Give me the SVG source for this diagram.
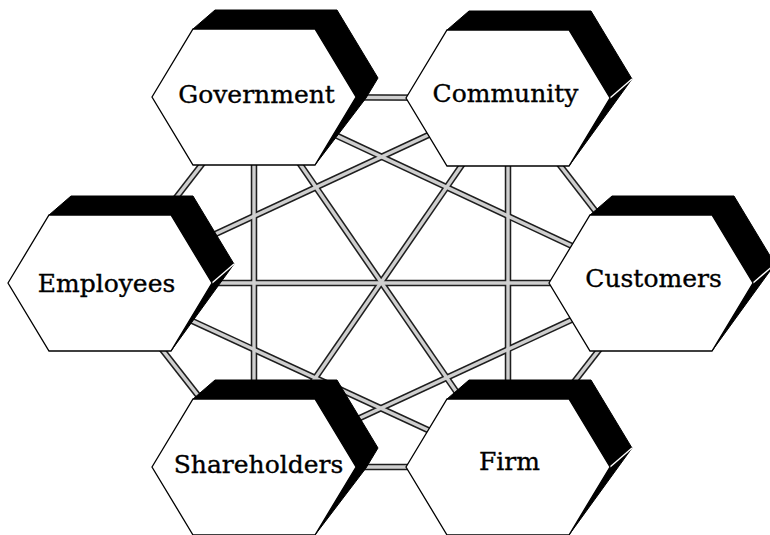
<svg xmlns="http://www.w3.org/2000/svg" xmlns:xlink="http://www.w3.org/1999/xlink" width="770" height="535" viewBox="0 0 770 535">
<style>
.outer{stroke:#1e1e1e;stroke-width:6.5;fill:none}
.inner{stroke:#cfcfcf;stroke-width:3.4;fill:none}
.front{fill:#fff;stroke:#000;stroke-width:1.3;stroke-linejoin:miter}
.shadow{fill:#000;stroke:#000;stroke-width:1}
.bevel{stroke:#fff;stroke-width:1.4}
.label{font-family:"DejaVu Serif","Liberation Serif",serif;font-size:25px;fill:#000;stroke:#000;stroke-width:0.35;text-anchor:middle}
</style>
<defs>
<g id="edges">
<line x1="254" y1="97" x2="508" y2="98"/>
<line x1="254" y1="97" x2="110" y2="283"/>
<line x1="254" y1="97" x2="651" y2="283"/>
<line x1="254" y1="97" x2="254" y2="467"/>
<line x1="254" y1="97" x2="508" y2="467"/>
<line x1="508" y1="98" x2="110" y2="283"/>
<line x1="508" y1="98" x2="651" y2="283"/>
<line x1="508" y1="98" x2="254" y2="467"/>
<line x1="508" y1="98" x2="508" y2="467"/>
<line x1="110" y1="283" x2="651" y2="283"/>
<line x1="110" y1="283" x2="254" y2="467"/>
<line x1="110" y1="283" x2="508" y2="467"/>
<line x1="651" y1="283" x2="254" y2="467"/>
<line x1="651" y1="283" x2="508" y2="467"/>
<line x1="254" y1="467" x2="508" y2="467"/>
</g>
<polygon id="hexFront" class="front" points="-102,0 -61,-68 61,-68 102,0 61,68 -61,68"/>
<polygon id="shadowA" class="shadow" points="-61,-68 -39,-87 83,-87 124,-19 112,1 61,68 0,0"/>
<polygon id="shadowB" class="shadow" points="-61,-68 -39,-87 83,-87 124,-19 61,68 0,0"/>
<line id="bevelLine" class="bevel" x1="102" y1="0" x2="124" y2="-19"/>
</defs>
<rect width="770" height="535" fill="#fff"/>
<g id="connectors">
<use xlink:href="#edges" class="outer"/>
<use xlink:href="#edges" class="inner"/>
</g>
<g id="government" transform="translate(254,97)">
<use xlink:href="#shadowA"/>
<use xlink:href="#hexFront"/>
<text class="label" x="2.5" y="6">Government</text>
</g>
<g id="community" transform="translate(508,98)">
<use xlink:href="#shadowB"/>
<use xlink:href="#bevelLine"/>
<use xlink:href="#hexFront"/>
<text class="label" x="-2.5" y="4">Community</text>
</g>
<g id="employees" transform="translate(110,283)">
<use xlink:href="#shadowB"/>
<use xlink:href="#bevelLine"/>
<use xlink:href="#hexFront"/>
<text class="label" x="-3.5" y="9">Employees</text>
</g>
<g id="customers" transform="translate(651,283)">
<use xlink:href="#shadowB"/>
<use xlink:href="#bevelLine"/>
<use xlink:href="#hexFront"/>
<text class="label" x="2.5" y="4">Customers</text>
</g>
<g id="shareholders" transform="translate(254,467)">
<use xlink:href="#shadowA"/>
<use xlink:href="#hexFront"/>
<text class="label" x="4.5" y="6">Shareholders</text>
</g>
<g id="firm" transform="translate(508,467)">
<use xlink:href="#shadowB"/>
<use xlink:href="#bevelLine"/>
<use xlink:href="#hexFront"/>
<text class="label" x="1.5" y="3">Firm</text>
</g>
</svg>
